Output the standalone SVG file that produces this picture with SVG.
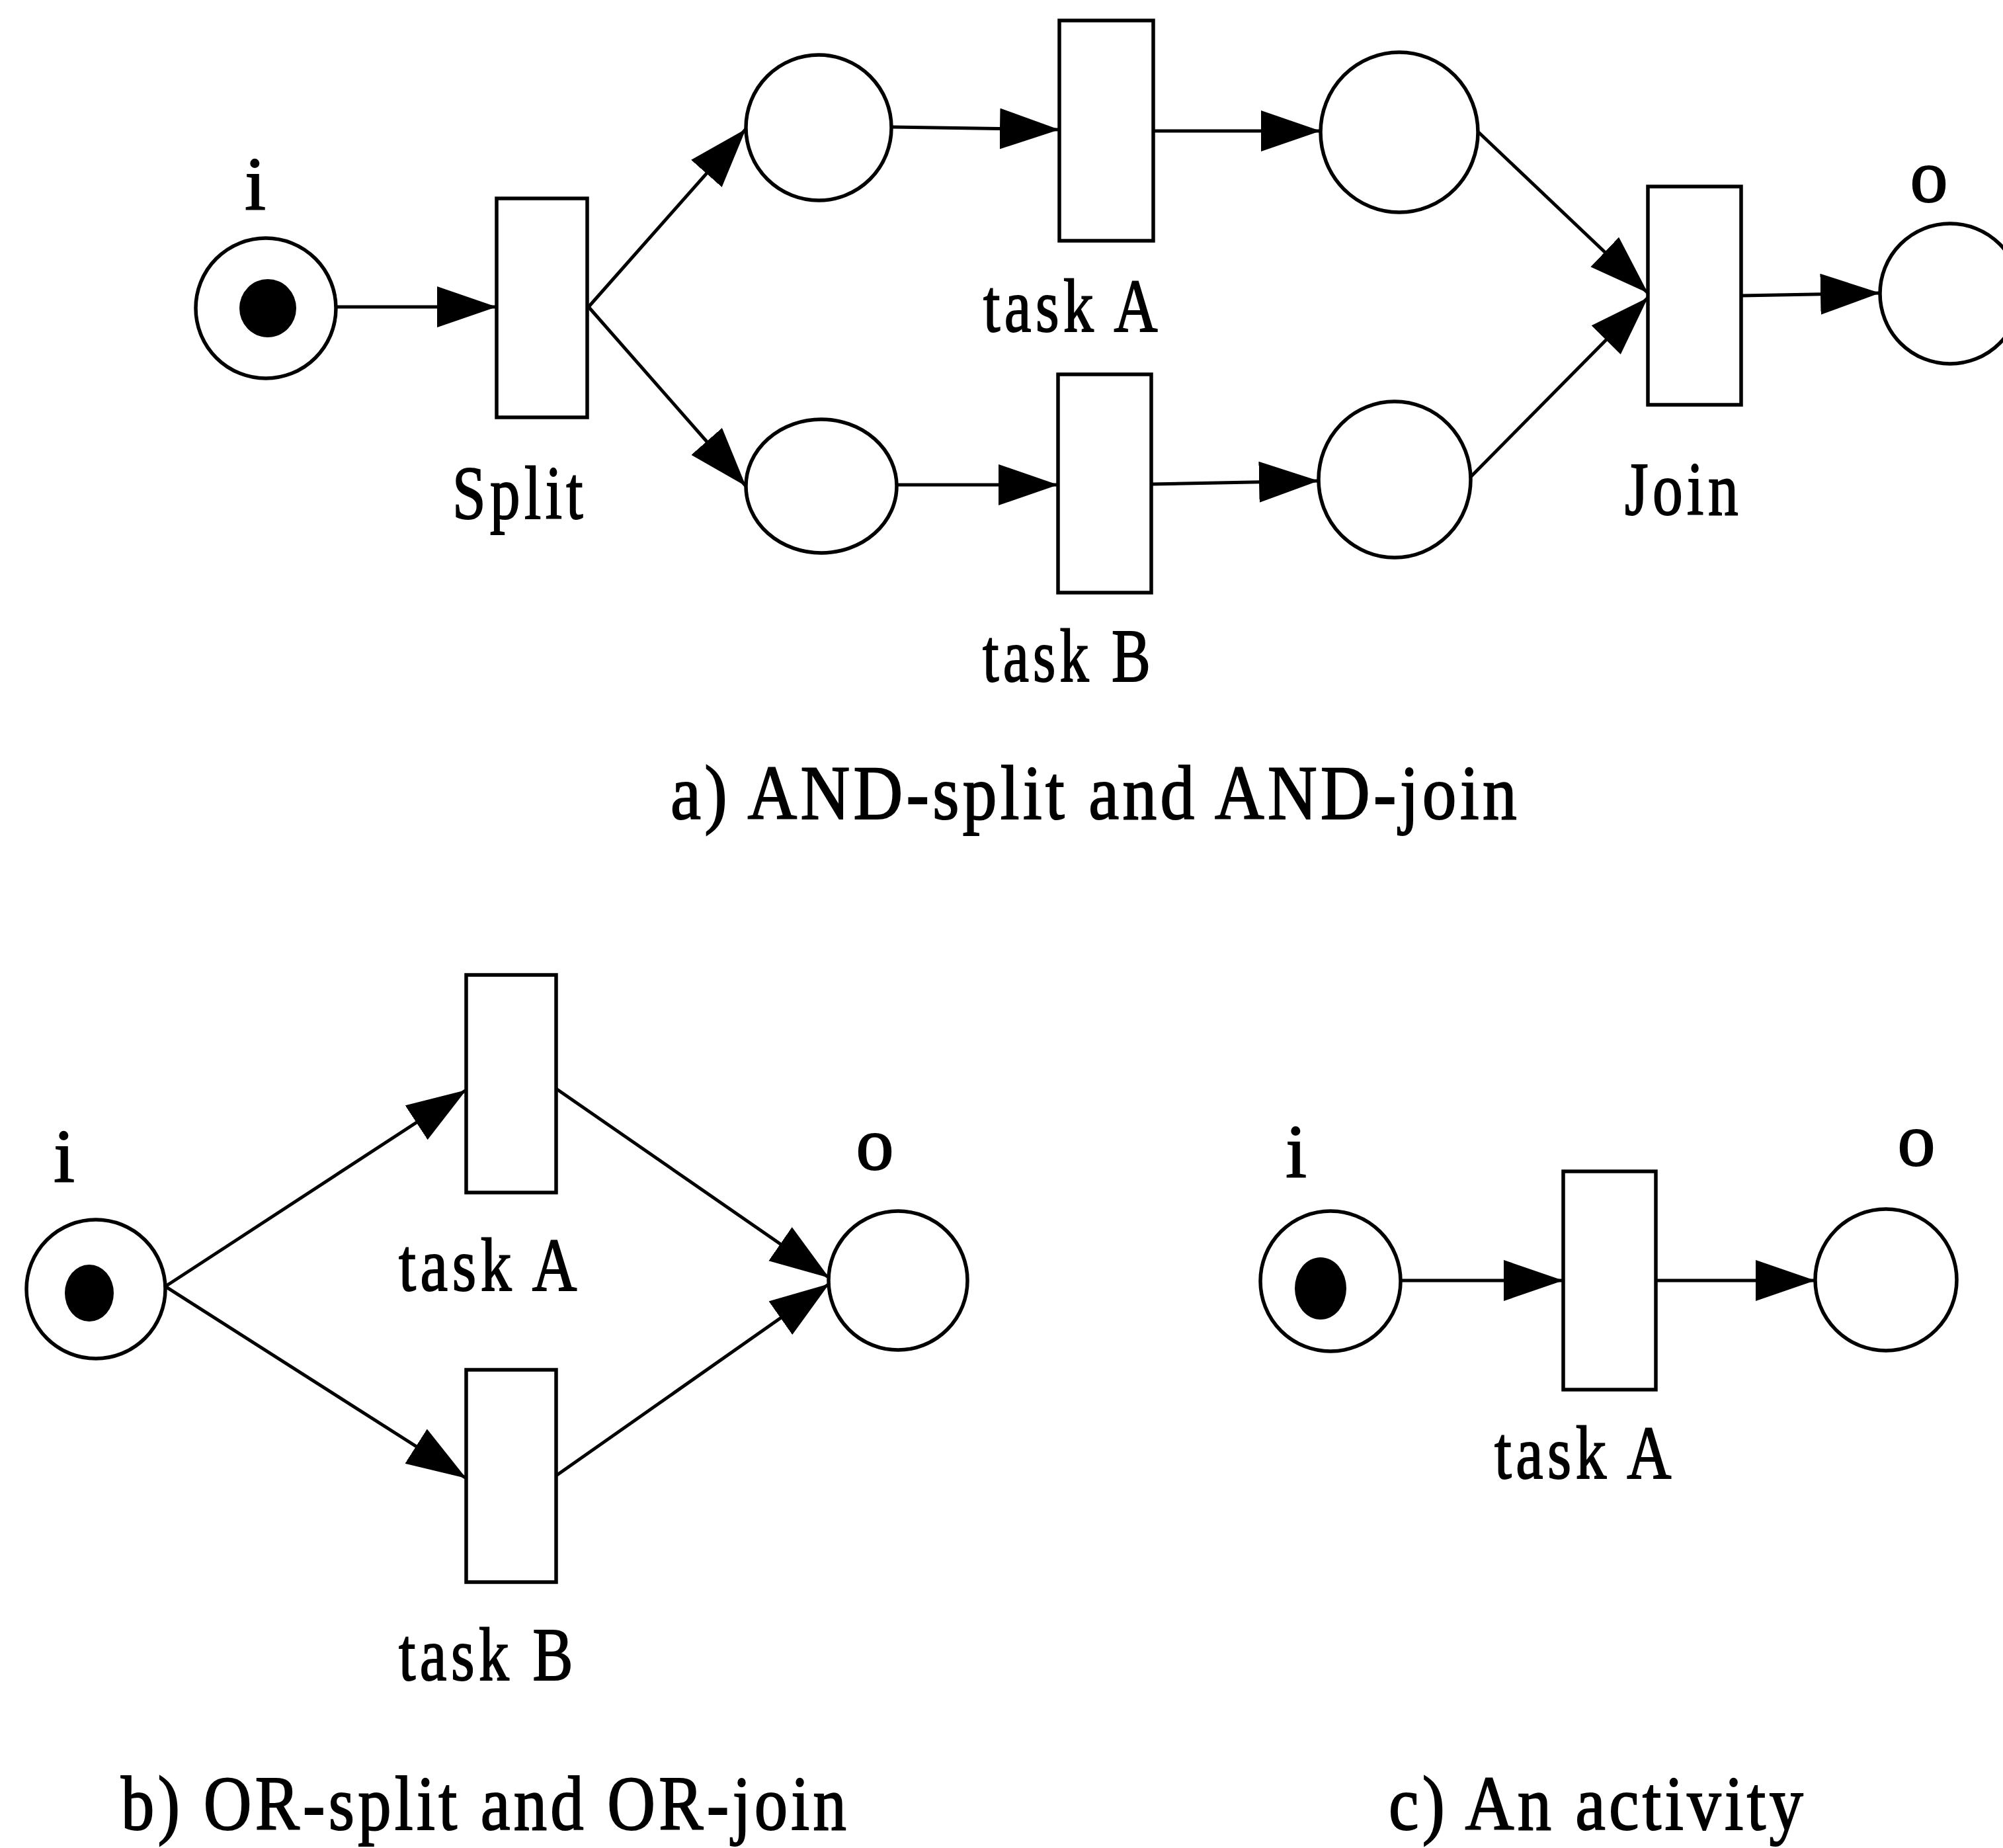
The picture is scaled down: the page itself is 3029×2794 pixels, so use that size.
<svg xmlns="http://www.w3.org/2000/svg" width="3029" height="2794" viewBox="0 0 3029 2794">
<style>
.pl{fill:#fff;stroke:#000;stroke-width:5.5}
.tr{fill:#fff;stroke:#000;stroke-width:5.5}
.tk{fill:#000}
.ar{fill:none;stroke:#000;stroke-width:5;marker-end:url(#ah)}
.lb{font-family:"Liberation Serif","Times New Roman",serif;font-size:114px;fill:#000;stroke:#000;stroke-width:2;letter-spacing:8px}
.cp{font-family:"Liberation Serif","Times New Roman",serif;font-size:116px;fill:#000;stroke:#000;stroke-width:2;letter-spacing:6px}
</style>
<defs>
<marker id="ah" markerUnits="userSpaceOnUse" markerWidth="92" markerHeight="64" refX="90" refY="31" orient="auto" viewBox="0 0 92 64">
<path d="M0,0 L90,31 L0,62 z" fill="#000"/>
</marker>
</defs>
<rect width="3029" height="2794" fill="#fff"/>

<g id="connectors">
<!-- a -->
<line class="ar" x1="510" y1="464" x2="751" y2="464"/>
<line class="ar" x1="890" y1="464" x2="1128" y2="195"/>
<line class="ar" x1="890" y1="464" x2="1128" y2="735"/>
<line class="ar" x1="1348" y1="192" x2="1602" y2="196"/>
<line class="ar" x1="1744" y1="198" x2="1997" y2="198"/>
<line class="ar" x1="1356" y1="733" x2="1600" y2="733"/>
<line class="ar" x1="1741" y1="732" x2="1994" y2="727"/>
<line class="ar" x1="2236" y1="200" x2="2492" y2="443"/>
<line class="ar" x1="2223" y1="722" x2="2492" y2="450"/>
<line class="ar" x1="2633" y1="447" x2="2843" y2="443"/>
<!-- b -->
<line class="ar" x1="250" y1="1945" x2="705" y2="1648"/>
<line class="ar" x1="250" y1="1945" x2="705" y2="2235"/>
<line class="ar" x1="841" y1="1646" x2="1254" y2="1932"/>
<line class="ar" x1="841" y1="2231" x2="1254" y2="1941"/>
<!-- c -->
<line class="ar" x1="2119" y1="1936" x2="2364" y2="1936"/>
<line class="ar" x1="2504" y1="1936" x2="2745" y2="1936"/>
</g>

<!-- Part a -->
<g id="a_i">
<circle class="pl" cx="402" cy="466" r="106"/>
<ellipse class="tk" cx="405" cy="466" rx="43" ry="44"/>
<text class="lb" x="386" y="317" text-anchor="middle" style="letter-spacing:0">i</text>
</g>
<g id="a_split">
<rect class="tr" x="751" y="300" width="137" height="331"/>
<text class="lb" x="684" y="784" textLength="204" lengthAdjust="spacingAndGlyphs">Split</text>
</g>
<g id="a_p1"><circle class="pl" cx="1238" cy="193" r="110"/></g>
<g id="a_p2"><ellipse class="pl" cx="1242" cy="735" rx="114" ry="101"/></g>
<g id="a_taskA">
<rect class="tr" x="1602" y="31" width="142" height="333"/>
<text class="lb" x="1487" y="501" textLength="270" lengthAdjust="spacingAndGlyphs">task A</text>
</g>
<g id="a_taskB">
<rect class="tr" x="1600" y="566" width="141" height="330"/>
<text class="lb" x="1486" y="1030" textLength="260" lengthAdjust="spacingAndGlyphs">task B</text>
</g>
<g id="a_p3"><ellipse class="pl" cx="2116" cy="200" rx="119" ry="121"/></g>
<g id="a_p4"><ellipse class="pl" cx="2109" cy="725" rx="115" ry="118"/></g>
<g id="a_join">
<rect class="tr" x="2492" y="282" width="141" height="330"/>
<text class="lb" x="2457" y="778" textLength="178" lengthAdjust="spacingAndGlyphs">Join</text>
</g>
<g id="a_o">
<circle class="pl" cx="2949" cy="444" r="106"/>
<text class="lb" x="2917" y="305" text-anchor="middle" style="letter-spacing:0">o</text>
</g>
<text id="cap_a" class="cp" x="1014" y="1238" textLength="1285" lengthAdjust="spacingAndGlyphs">a) AND-split and AND-join</text>

<!-- Part b -->
<g id="b_i">
<circle class="pl" cx="145" cy="1949" r="105"/>
<ellipse class="tk" cx="135" cy="1955" rx="37" ry="43"/>
<text class="lb" x="97" y="1787" text-anchor="middle" style="letter-spacing:0">i</text>
</g>
<g id="b_taskA">
<rect class="tr" x="705" y="1474" width="136" height="329"/>
<text class="lb" x="603" y="1951" textLength="276" lengthAdjust="spacingAndGlyphs">task A</text>
</g>
<g id="b_taskB">
<rect class="tr" x="705" y="2071" width="136" height="321"/>
<text class="lb" x="603" y="2540" textLength="270" lengthAdjust="spacingAndGlyphs">task B</text>
</g>
<g id="b_o">
<circle class="pl" cx="1358" cy="1936" r="105"/>
<text class="lb" x="1323" y="1768" text-anchor="middle" style="letter-spacing:0">o</text>
</g>
<text id="cap_b" class="cp" x="183" y="2766" textLength="1102" lengthAdjust="spacingAndGlyphs">b) OR-split and OR-join</text>

<!-- Part c -->
<g id="c_i">
<circle class="pl" cx="2012" cy="1937" r="106"/>
<ellipse class="tk" cx="1997" cy="1948" rx="39" ry="47"/>
<text class="lb" x="1960" y="1780" text-anchor="middle" style="letter-spacing:0">i</text>
</g>
<g id="c_taskA">
<rect class="tr" x="2364" y="1771" width="140" height="330"/>
<text class="lb" x="2260" y="2235" textLength="274" lengthAdjust="spacingAndGlyphs">task A</text>
</g>
<g id="c_o">
<circle class="pl" cx="2852" cy="1935" r="107"/>
<text class="lb" x="2898" y="1762" text-anchor="middle" style="letter-spacing:0">o</text>
</g>
<text id="cap_c" class="cp" x="2100" y="2766" textLength="632" lengthAdjust="spacingAndGlyphs">c) An activity</text>
</svg>
